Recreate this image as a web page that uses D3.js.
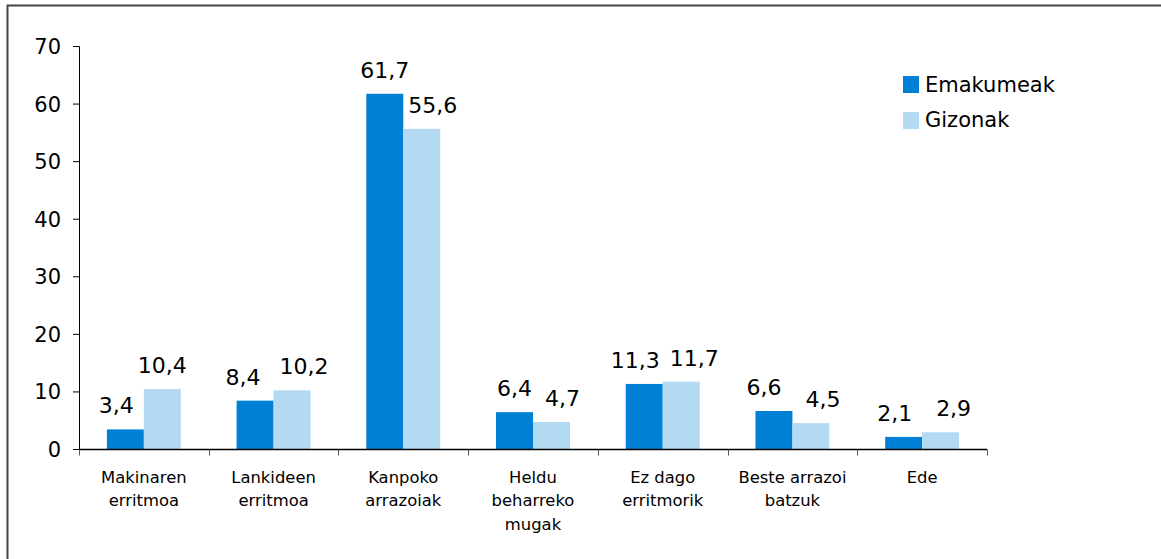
<!DOCTYPE html>
<html><head><meta charset="utf-8">
<script src="https://cdn.jsdelivr.net/npm/d3@7"></script>
<style>body{margin:0;background:#fff}svg{display:block}text{font-family:"DejaVu Sans",Verdana,sans-serif;fill:#000}</style>
</head><body>
<svg id="c" width="1161" height="559"></svg>
<script>
const categories = [["Makinaren","erritmoa"],["Lankideen","erritmoa"],["Kanpoko","arrazoiak"],["Heldu","beharreko","mugak"],["Ez dago","erritmorik"],["Beste arrazoi","batzuk"],["Ede"]];
const seriesNames = ["Emakumeak","Gizonak"];
const emakumeak = [3.4, 8.4, 61.7, 6.4, 11.3, 6.6, 2.1];
const gizonak = [10.4, 10.2, 55.6, 4.7, 11.7, 4.5, 2.9];
const yTicks = [0,10,20,30,40,50,60,70];
const colors = ["#0080d5","#b3daf2"];
// layout: horizontal nudges of the value labels, as placed in the original
const labelShift = [[-9,0],[-12,12],[0,11],[0,11],[-9,13],[-10,12],[-9,13]];

const svg = d3.select("#c");
svg.append("rect").attr("x",7.5).attr("y",5.5).attr("width",1200).attr("height",600)
  .attr("fill","none").attr("stroke","#444").attr("stroke-width",2);

const x0 = 79, x1 = 987, yTop = 46, yBot = 449;
const keys = categories.map((d,i)=>i);
const x = d3.scaleBand().domain(keys).range([x0,x1]).paddingInner(0).paddingOuter(0);
const xs = d3.scaleBand().domain([0,1]).range([x.bandwidth()*0.215, x.bandwidth()*0.785]);
const y = d3.scaleLinear().domain([0,70]).range([yBot,yTop]);
const series = [emakumeak, gizonak];

const g = svg.append("g");
keys.forEach(i=>{
  series.forEach((s,k)=>{
    const bx = x(i)+xs(k);
    g.append("rect").attr("x",bx).attr("y",y(s[i])).attr("width",xs.bandwidth()).attr("height",yBot-y(s[i])).attr("fill",colors[k]);
  });
});
keys.forEach(i=>{
  series.forEach((s,k)=>{
    const bx = x(i)+xs(k);
    g.append("text").attr("x",bx+xs.bandwidth()/2+labelShift[i][k]).attr("y",y(s[i])-16)
      .attr("text-anchor","middle").attr("font-size",22).text(String(s[i]).replace(".",","));
  });
});

// y axis
const ya = svg.append("g").attr("transform",`translate(${x0},0)`)
  .call(d3.axisLeft(y).tickValues(yTicks).tickSize(6).tickPadding(12).tickFormat(d3.format("d")));
ya.select(".domain").attr("stroke","#000").attr("d",`M-6,${yTop+0.5}H0.5V${yBot}`);
ya.selectAll(".tick line").attr("stroke","#000");
ya.selectAll(".tick text").attr("font-size",21).attr("font-family","DejaVu Sans").attr("dy","0.36em");

// x axis
const xa = svg.append("g").attr("transform",`translate(0,${yBot+0.5})`);
xa.append("line").attr("x1",x0).attr("x2",x1).attr("stroke","#000").attr("stroke-width",1.5);
d3.range(categories.length+1).forEach(i=>{
  const px = Math.round(x0 + i*x.step())+0.5;
  xa.append("line").attr("x1",px).attr("x2",px).attr("y1",0).attr("y2",6).attr("stroke","#555");
});
keys.forEach(i=>{
  const t = xa.append("text").attr("text-anchor","middle").attr("font-size",16.4);
  categories[i].forEach((l,j)=>{
    t.append("tspan").attr("x",x(i)+x.bandwidth()/2).attr("y",33+j*23.8).text(l);
  });
});

// legend
const lg = svg.append("g");
seriesNames.forEach((n,k)=>{
  lg.append("rect").attr("x",903).attr("y",76+k*36).attr("width",16).attr("height",17).attr("fill",colors[k]);
  lg.append("text").attr("x",925).attr("y",84+k*35).attr("dy","0.36em").attr("font-size",21).text(n);
});
</script>
</body></html>
